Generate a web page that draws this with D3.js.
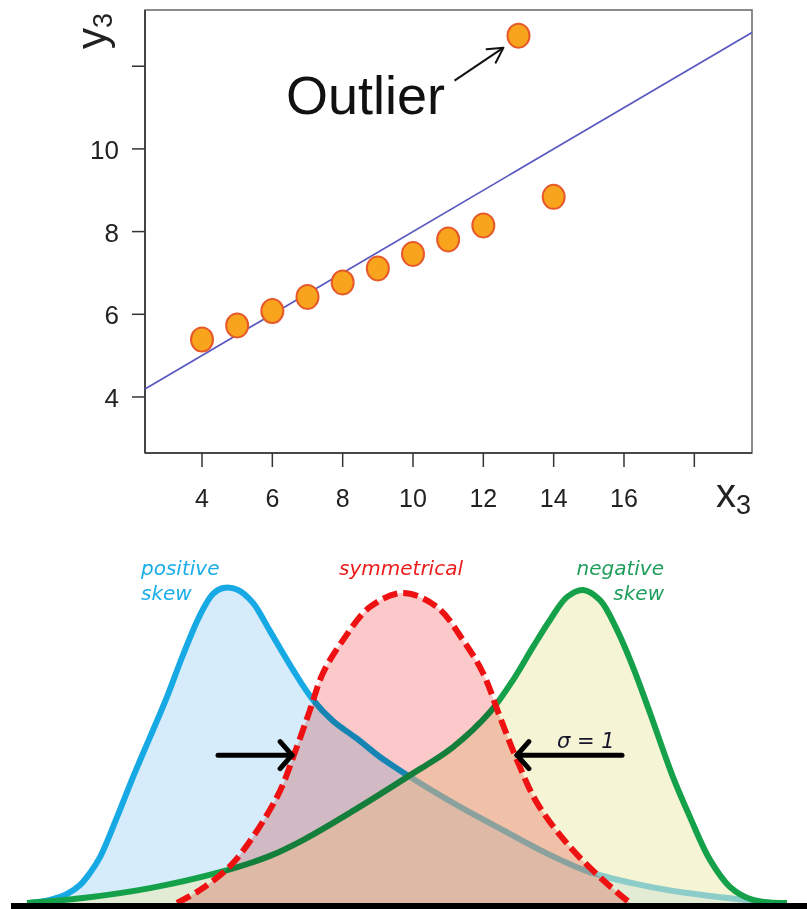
<!DOCTYPE html>
<html><head><meta charset="utf-8">
<script src="https://cdn.jsdelivr.net/npm/d3@7"></script>
<style>body{margin:0;background:#fff}</style>
</head><body>
<svg id="c" width="807" height="909" xmlns="http://www.w3.org/2000/svg"></svg>
<script>
// ---------- Top chart data (Anscombe set III) ----------
const x3 = [10, 8, 13, 9, 11, 14, 6, 4, 12, 7, 5];
const y3 = [7.46, 6.77, 12.74, 7.11, 7.81, 8.84, 6.08, 5.39, 8.15, 6.42, 5.73];
const xTicks = [4, 6, 8, 10, 12, 14, 16, 18];
const xTickLabels = ["4", "6", "8", "10", "12", "14", "16", ""];
const yTicks = [4, 6, 8, 10, 12];
const yTickLabels = ["4", "6", "8", "10", ""];
const outlierText = "Outlier";

// ---------- Bottom chart data (x in sd units, y relative density) ----------
const positiveSkew = [[-3.73,0],[-3.53,0.010],[-3.36,0.029],[-3.23,0.058],[-3.13,0.097],[-3.03,0.148],
  [-2.86,0.277],[-2.70,0.406],[-2.53,0.535],[-2.36,0.665],[-2.20,0.800],[-2.03,0.929],[-1.90,0.997],
  [-1.80,1.016],[-1.65,1.010],[-1.50,0.968],[-1.33,0.877],[-1.10,0.752],[-0.90,0.655],[-0.70,0.587],
  [-0.46,0.530],[-0.23,0.471],[0.04,0.413],[0.50,0.323],[1.00,0.235],[1.37,0.171],[1.84,0.103],
  [2.34,0.061],[2.84,0.032],[3.34,0.013],[3.67,0]];
const symmetrical = [[-2.26,0],[-2.03,0.042],[-1.70,0.129],[-1.26,0.342],[-1.08,0.487],[-0.93,0.623],
  [-0.80,0.742],[-0.60,0.848],[-0.33,0.955],[0,1],[0.34,0.955],[0.60,0.848],[0.80,0.742],[0.97,0.600],
  [1.14,0.461],[1.34,0.323],[1.67,0.181],[2.00,0.074],[2.27,0]];
const negativeSkew = [[-3.76,0],[-3.20,0.016],[-2.53,0.048],[-1.86,0.097],[-1.33,0.152],[-1.00,0.203],
  [-0.50,0.297],[0.04,0.406],[0.50,0.503],[0.87,0.616],[1.10,0.719],[1.30,0.826],[1.47,0.913],
  [1.64,0.987],[1.80,1.010],[1.97,0.977],[2.14,0.881],[2.30,0.761],[2.47,0.613],[2.70,0.406],
  [2.87,0.277],[3.07,0.139],[3.27,0.052],[3.50,0.010],[3.84,0]];
const sigmaArrows = [{from: -1.85, to: -1.11, level: 0.477}, {from: 2.19, to: 1.14, level: 0.477}];
const sigmaText = "σ = 1";

const svg = d3.select("#c");

// ---------- Top chart ----------
const xs = d3.scaleLinear().domain([2.379, 19.64]).range([145, 752]);
const ys = d3.scaleLinear().domain([2.645, 13.36]).range([453, 10]);
const gTop = svg.append("g");
const topFont = "'Liberation Sans', Arial, Helvetica, sans-serif";

gTop.append("rect").attr("x", 145).attr("y", 10).attr("width", 607).attr("height", 443)
  .attr("fill", "none").attr("stroke", "#666").attr("stroke-width", 1.5);
gTop.append("line").attr("x1", 145).attr("x2", 145).attr("y1", 10).attr("y2", 453).attr("stroke", "#333").attr("stroke-width", 1.6);
gTop.append("line").attr("x1", 145).attr("x2", 752).attr("y1", 453).attr("y2", 453).attr("stroke", "#333").attr("stroke-width", 1.6);

gTop.selectAll(".xt").data(xTicks).join("line")
  .attr("x1", d => xs(d)).attr("x2", d => xs(d)).attr("y1", 453).attr("y2", 467)
  .attr("stroke", "#333").attr("stroke-width", 1.5);
gTop.selectAll(".xl").data(xTicks).join("text")
  .attr("x", d => xs(d)).attr("y", 507).attr("text-anchor", "middle")
  .attr("font-family", topFont).attr("font-size", 25).attr("fill", "#222")
  .text((d, i) => xTickLabels[i]);
gTop.selectAll(".yt").data(yTicks).join("line")
  .attr("x1", 132).attr("x2", 145).attr("y1", d => ys(d)).attr("y2", d => ys(d))
  .attr("stroke", "#333").attr("stroke-width", 1.5);
gTop.selectAll(".yl").data(yTicks).join("text")
  .attr("x", 119).attr("y", d => ys(d) + 10).attr("text-anchor", "end")
  .attr("font-family", topFont).attr("font-size", 26).attr("fill", "#222")
  .text((d, i) => yTickLabels[i]);

const yT = gTop.append("text").attr("transform", "translate(106,49) rotate(-90)")
  .attr("font-family", topFont).attr("fill", "#222");
yT.append("tspan").attr("font-size", 42).text("y");
yT.append("tspan").attr("font-size", 27).attr("dy", 6).text("3");
const xT = gTop.append("text").attr("x", 716).attr("y", 507)
  .attr("font-family", topFont).attr("fill", "#222");
xT.append("tspan").attr("font-size", 40).text("x");
xT.append("tspan").attr("font-size", 27).attr("dy", 7).text("3");

// regression line from data
const mx = d3.mean(x3), my = d3.mean(y3);
const slope = d3.sum(x3, (x, i) => (x - mx) * (y3[i] - my)) / d3.sum(x3, x => (x - mx) ** 2);
const icpt = my - slope * mx;
const xd = xs.domain();
gTop.append("line")
  .attr("x1", xs(xd[0])).attr("y1", ys(icpt + slope * xd[0]))
  .attr("x2", xs(xd[1])).attr("y2", ys(icpt + slope * xd[1]))
  .attr("stroke", "#5858c0").attr("stroke-width", 1.7);

const pts = x3.map((x, i) => ({x, y: y3[i]}));
gTop.selectAll(".pt").data(pts).join("ellipse")
  .attr("cx", d => xs(d.x)).attr("cy", d => ys(d.y)).attr("rx", 11).attr("ry", 12)
  .attr("fill", "#f8a41c").attr("stroke", "#e5592a").attr("stroke-width", 2);

const outl = pts[d3.maxIndex(pts, d => d.y)];
const ox = xs(outl.x), oy = ys(outl.y);
gTop.append("text").attr("x", 286).attr("y", 114)
  .attr("font-family", topFont).attr("font-size", 54).attr("fill", "#111").text(outlierText);

function chevron(g, tip, from, len, ang, w, col) {
  const a = Math.atan2(from[1] - tip[1], from[0] - tip[0]);
  const p1 = [tip[0] + len * Math.cos(a + ang), tip[1] + len * Math.sin(a + ang)];
  const p2 = [tip[0] + len * Math.cos(a - ang), tip[1] + len * Math.sin(a - ang)];
  g.append("path").attr("d", `M${p1}L${tip}L${p2}`).attr("fill", "none")
    .attr("stroke", col).attr("stroke-width", w).attr("stroke-linecap", "round").attr("stroke-linejoin", "round");
}
const oTip = [ox - 15, oy + 12], oTail = [ox - 64, oy + 45];
gTop.append("line").attr("x1", oTail[0]).attr("y1", oTail[1]).attr("x2", oTip[0]).attr("y2", oTip[1])
  .attr("stroke", "#111").attr("stroke-width", 2);
chevron(gTop, oTip, oTail, 17, 0.5, 2, "#111");

// ---------- Bottom chart ----------
const bx = d3.scaleLinear().domain([-4, 4]).range([3, 803]);
const by = d3.scaleLinear().domain([0, 1]).range([903, 593]);
const gBot = svg.append("g");
const crv = d3.curveCatmullRom.alpha(0.5);
const area = d3.area().x(d => bx(d[0])).y0(by(0)).y1(d => by(d[1])).curve(crv);
const line = d3.line().x(d => bx(d[0])).y(d => by(d[1])).curve(crv);

const series = [
  {data: positiveSkew, fill: "#d6ecfa", op: 1, blend: "normal", stroke: "#17a9e4", dash: null},
  {data: negativeSkew, fill: "#edebb2", op: 0.55, blend: "normal", stroke: "#14a14a", dash: null},
  {data: symmetrical, fill: "#fbc9c9", op: 1, blend: "multiply", stroke: "#ee1111", dash: "15,6"}
];
series.forEach(s => {
  gBot.append("path").attr("d", area(s.data)).attr("fill", s.fill).attr("fill-opacity", s.op)
    .style("mix-blend-mode", s.blend);
  gBot.append("path").attr("d", line(s.data)).attr("fill", "none").attr("stroke", s.stroke)
    .attr("stroke-width", 6).attr("stroke-linejoin", "round")
    .attr("stroke-dasharray", s.dash);
});

gBot.append("rect").attr("x", 11).attr("y", 903).attr("width", 796).attr("height", 6).attr("fill", "#000");

sigmaArrows.forEach(a => {
  const tail = [bx(a.from), by(a.level)], tip = [bx(a.to), by(a.level)];
  gBot.append("line").attr("x1", tail[0]).attr("y1", tail[1]).attr("x2", tip[0]).attr("y2", tip[1])
    .attr("stroke", "#000").attr("stroke-width", 5).attr("stroke-linecap", "round");
  chevron(gBot, tip, tail, 18, 0.85, 5, "#000");
});
const distFont = "'DejaVu Sans', Verdana, sans-serif";
gBot.append("text").attr("x", 557).attr("y", 748).attr("font-family", distFont)
  .attr("font-style", "italic").attr("font-size", 21).attr("fill", "#15152a")
  .attr("xml:space", "preserve").text(sigmaText);

function label(lines, x, y, anchor, col) {
  const t = gBot.append("text").attr("font-family", distFont).attr("font-style", "italic")
    .attr("font-size", 20).attr("fill", col).attr("text-anchor", anchor);
  lines.forEach((l, i) => t.append("tspan").attr("x", x).attr("y", y + i * 25).text(l));
}
label(["positive", "skew"], 141, 575, "start", "#1aaee8");
label(["symmetrical"], 401, 575, "middle", "#ee1c1c");
label(["negative", "skew"], 664, 575, "end", "#1f9e5c");
</script>
</body></html>
